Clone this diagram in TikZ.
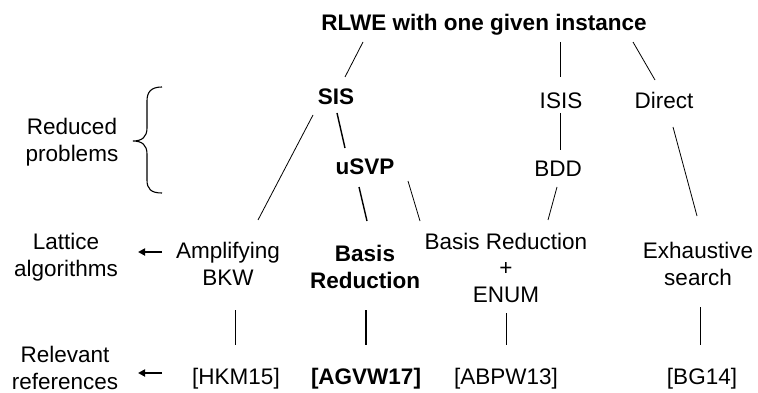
\documentclass[tikz,border=0pt]{standalone}
\usepackage{fontspec}
\setmainfont{Liberation Sans}
\usetikzlibrary{arrows.meta}
\begin{document}
\begin{tikzpicture}[x=1pt,y=-1pt,
  lbl/.style={inner sep=0pt, anchor=base, align=center, font=\fontsize{22.5}{26.5}\selectfont},
  blbl/.style={lbl, font=\fontsize{22.5}{26.5}\selectfont\bfseries},
  conn/.style={line width=0.8pt},
  bconn/.style={line width=1.4pt},
  side/.style={-{Triangle[length=7pt,width=7pt]}, line width=2pt},
  bracestyle/.style={line width=1.1pt}]
\useasboundingbox (0,0) rectangle (758,393);

% tree nodes (base = baseline of the last line)
\node[blbl] (title) at (484,31) {RLWE with one given instance};
\node[blbl] (sis) at (336,105) {SIS};
\node[lbl] (isis) at (561,109) {ISIS};
\node[lbl] (direct) at (664,109) {Direct};
\node[blbl] (usvp) at (365,175) {uSVP};
\node[lbl] (bdd) at (558,177) {BDD};
\node[lbl] (amp) at (228,285) {Amplifying\\BKW};
\node[blbl] (brb) at (365,288) {Basis\\Reduction};
\node[lbl] (bre) at (506,302) {Basis Reduction\\+\\ENUM};
\node[lbl] (exh) at (698,285) {Exhaustive\\search};
\node[lbl] (hkm) at (236,384) {[HKM15]};
\node[blbl] (agvw) at (366,384) {[AGVW17]};
\node[lbl] (abpw) at (506,384) {[ABPW13]};
\node[lbl] (bg) at (702,384) {[BG14]};

% side labels
\node[lbl] (red) at (72,161) {Reduced\\problems};
\node[lbl] (lat) at (66,276) {Lattice\\algorithms};
\node[lbl] (rel) at (65,389) {Relevant\\references};

% connectors
\draw[conn] ([xshift=-121pt,yshift=-11pt]title.base) -- ([xshift=9pt,yshift=28pt]sis.base);
\draw[conn] ([xshift=76pt,yshift=-11pt]title.base) -- ([xshift=-1pt,yshift=32pt]isis.base);
\draw[conn] ([xshift=149pt,yshift=-11pt]title.base) -- ([xshift=-9pt,yshift=29pt]direct.base);
\draw[bconn] ([xshift=1pt,yshift=-8pt]sis.base) -- ([xshift=-20pt,yshift=27pt]usvp.base);
\draw[conn] ([xshift=-23pt,yshift=-10pt]sis.base) -- ([xshift=30pt,yshift=65pt]amp.base);
\draw[conn] ([xshift=-1pt,yshift=-4pt]isis.base) -- ([xshift=2pt,yshift=27pt]bdd.base);
\draw[conn] ([xshift=9pt,yshift=-18pt]direct.base) -- ([xshift=-1pt,yshift=69pt]exh.base);
\draw[bconn] ([xshift=-6pt,yshift=-12pt]usvp.base) -- ([xshift=2pt,yshift=67pt]brb.base);
\draw[conn] ([xshift=43pt,yshift=-6pt]usvp.base) -- ([xshift=-86pt,yshift=81pt]bre.base);
\draw[conn] ([xshift=-1pt,yshift=-10pt]bdd.base) -- ([xshift=42pt,yshift=82pt]bre.base);
\draw[conn] ([xshift=7pt,yshift=-25pt]amp.base) -- ([xshift=-1pt,yshift=39pt]hkm.base);
\draw[bconn] ([xshift=1pt,yshift=-22pt]brb.base) -- ([xshift=0pt,yshift=39pt]agvw.base);
\draw[conn] ([xshift=0pt,yshift=-11pt]bre.base) -- ([xshift=0pt,yshift=39pt]abpw.base);
\draw[conn] ([xshift=2pt,yshift=-22pt]exh.base) -- ([xshift=-2pt,yshift=39pt]bg.base);

% side arrows
\coordinate (latA) at ([xshift=96pt,yshift=24pt]lat.base);
\coordinate (latB) at ([xshift=72pt,yshift=24pt]lat.base);
\draw[side] (latA) -- (latB);
\coordinate (relA) at ([xshift=97pt,yshift=16pt]rel.base);
\coordinate (relB) at ([xshift=73pt,yshift=16pt]rel.base);
\draw[side] (relA) -- (relB);

% brace
\draw[bracestyle] (162,87) .. controls (151,87) and (147,92) .. (147,101) -- (147,128)
  .. controls (147,137) and (142,141) .. (133,141)
  .. controls (142,141) and (147,145) .. (147,154) -- (147,180)
  .. controls (147,189) and (151,193) .. (162,193);
\end{tikzpicture}
\end{document}
